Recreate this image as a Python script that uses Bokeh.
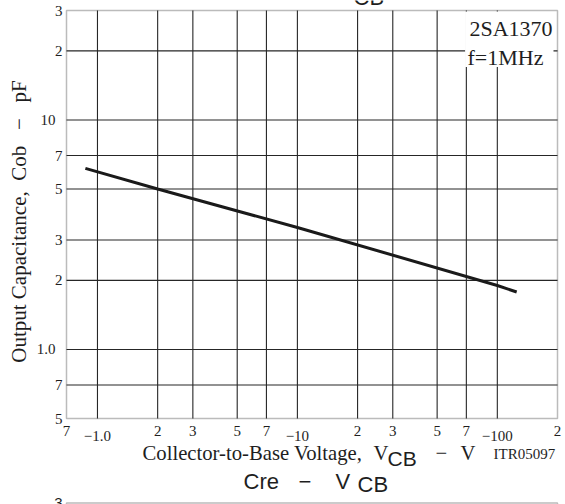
import math
from bokeh.plotting import figure
from bokeh.models import (Range1d, Label, LabelSet, ColumnDataSource,
                          BoxAnnotation)
from bokeh.embed import file_html
from bokeh.resources import INLINE

# ---- data ----
vcb = [0.87, 2.0, 10.0, 100.0, 125.0]
cob = [6.15, 5.0, 3.4, 1.9, 1.78]

x_grid = [1, 2, 3, 5, 7, 10, 20, 30, 50, 70, 100]
y_grid = [0.7, 1, 2, 3, 5, 7, 10, 20]
x_minor_ticks = [0.7, 2, 3, 5, 7, 20, 30, 50, 70, 200]
x_minor_labels = ["7", "2", "3", "5", "7", "2", "3", "5", "7", "2"]
x_decade_ticks = [1, 10, 100]
x_decade_labels = ["\u22121.0", "\u221210", "\u2212100"]
y_minor_ticks = [0.5, 0.7, 2, 3, 5, 7, 20, 30]
y_minor_labels = ["5", "7", "2", "3", "5", "7", "2", "3"]
y_decade_ticks = [1, 10]
y_decade_labels = ["1.0", "10"]

X_MIN, X_MAX = 0.7, 200
Y_MIN, Y_MAX = 0.5, 30

# ---- layout (pixels of the 565x504 page) ----
W, H = 565, 504
PL, PR, PT, PB = 66, 557, 10, 418          # plot-area edges
dx = (PR - PL) / math.log10(X_MAX / X_MIN)
dy = (PB - PT) / math.log10(Y_MAX / Y_MIN)
x_range = Range1d(X_MIN * 10 ** (-PL / dx), X_MAX * 10 ** ((W - PR) / dx))
y_range = Range1d(Y_MIN * 10 ** (-(H - PB) / dy), Y_MAX * 10 ** (PT / dy))

SANS = "Liberation Sans"
SERIF = "Liberation Serif"
INK = "#1e1e1e"

p = figure(width=W, height=H, x_axis_type="log", y_axis_type="log",
           x_range=x_range, y_range=y_range,
           x_axis_location=None, y_axis_location=None,
           output_backend="svg", toolbar_location=None, min_border=0)
p.background_fill_color = "white"
p.border_fill_color = "white"
p.outline_line_color = None
p.xgrid.visible = False
p.ygrid.visible = False

# grid lines of the plot area
p.segment(x0=x_grid, x1=x_grid, y0=[Y_MIN] * len(x_grid),
          y1=[Y_MAX] * len(x_grid), line_color="#262626", line_width=1.1)
p.segment(x0=[X_MIN] * len(y_grid), x1=[X_MAX] * len(y_grid), y0=y_grid,
          y1=y_grid, line_color="#262626", line_width=1.1)

# data line
p.line(vcb, cob, line_width=3, line_color="#1a1a1a")

# white box behind the part-number note
p.add_layout(BoxAnnotation(left=69, right=191, bottom=17, top=29.7,
                           fill_color="white", fill_alpha=1, line_color=None))

# plot-area border
p.add_layout(BoxAnnotation(left=X_MIN, right=X_MAX, bottom=Y_MIN, top=Y_MAX,
                           fill_alpha=0, line_color=INK, line_width=1.5))


def sy(page_y):
    return H - page_y


# tick labels
def labelset(xs, ys, texts, xu, yu, align, size="15px"):
    src = ColumnDataSource(dict(x=xs, y=ys, t=texts))
    p.add_layout(LabelSet(x="x", y="y", text="t", source=src, x_units=xu,
                          y_units=yu, text_align=align, text_baseline="middle",
                          text_font=SANS, text_font_size=size,
                          text_color=INK))


labelset(x_minor_ticks, [sy(430.5)] * len(x_minor_ticks), x_minor_labels,
         "data", "screen", "center")
labelset(x_decade_ticks, [sy(435.5)] * len(x_decade_ticks), x_decade_labels,
         "data", "screen", "center")
labelset([62] * len(y_minor_ticks), y_minor_ticks, y_minor_labels,
         "screen", "data", "right")
labelset([55] * len(y_decade_ticks), y_decade_ticks, y_decade_labels,
         "screen", "data", "right")


def lab(text, x, y, font=SERIF, size="20px", **kw):
    # y is the page y of the text's middle
    p.add_layout(Label(text=text, x=x, y=sy(y), x_units="screen",
                       y_units="screen", text_font=font, text_font_size=size,
                       text_color=INK, text_baseline="middle",
                       text_align=kw.pop("align", "left"), **kw))


# part-number note
lab("2SA1370", 469, 28, size="22px")
lab("f=1MHz", 467, 57, size="22px")

# y title
lab("Output Capacitance,\u00a0 Cob\u00a0\u00a0 \u2212\u00a0\u00a0 pF", 18,
    221, size="21px", angle=math.pi / 2, align="center")

# x title
lab("Collector-to-Base Voltage,", 142, 452, size="20.7px")
lab("V", 373, 452, size="20.7px")
lab("CB", 387, 458, font=SANS, size="21px")
lab("\u2212", 435, 452, size="20.7px")
lab("V", 460, 452, size="20.7px")
lab("ITR05097", 493, 453, size="15px")

# title of this chart (cut off by the page top) and of the next chart
lab("CB", 353, -3, font=SANS, size="22px")
lab("Cre", 243, 481, font=SANS, size="22px")
lab("\u2212", 298, 481, font=SANS, size="22px")
lab("V", 335, 481, font=SANS, size="22px")
lab("CB", 357, 484, font=SANS, size="22px")

# top edge of the next chart
p.add_layout(BoxAnnotation(left=X_MIN, right=X_MAX, top=sy(502.5),
                           top_units="screen", bottom=-20,
                           bottom_units="screen", fill_alpha=0,
                           line_color=INK, line_width=1.5))
lab("3", 62, 502, font=SANS, size="15px", align="right")

open("out.html", "w").write(file_html(p, INLINE))
